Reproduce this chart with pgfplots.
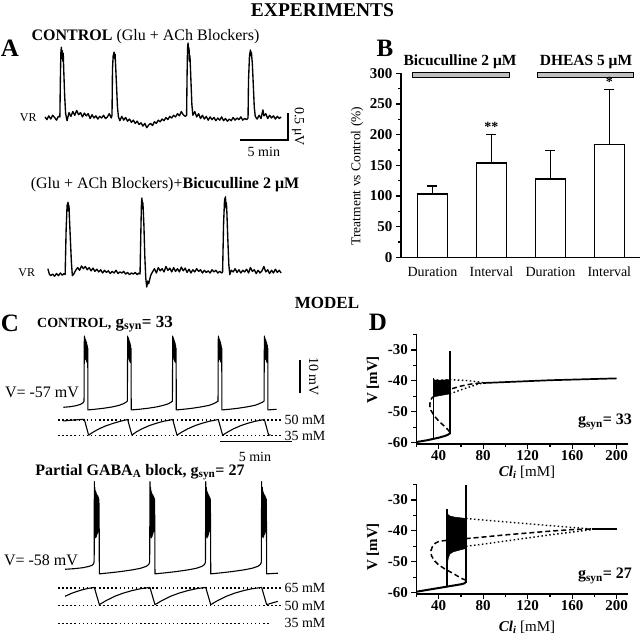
\documentclass[border=0pt]{standalone}
\usepackage{fontspec}
\setmainfont{Liberation Serif}
\usepackage{pgfplots}
\pgfplotsset{compat=1.18}
\newcommand{\fs}[1]{\fontsize{#1bp}{#1bp}\selectfont}
\pgfplotsset{
  trace/.style={scale only axis, hide axis, clip=false, enlargelimits=false, anchor=south west},
  tr/.style={black, line width=1.35bp, line join=round},
  dotl/.style={black, line width=1.3bp, dash pattern=on 1.5bp off 2.6bp},
  panelD/.style={scale only axis, clip=false, enlargelimits=false, anchor=south west,
    width=211.4bp, height=109.7bp, xmin=20, xmax=210, ymin=-60.5, ymax=-25,
    axis x line*=bottom, axis y line*=left, axis line style={line width=1.4bp,-},
    tick align=outside, xtick={40,80,...,200}, minor xtick={20,60,100,140,180},
    ytick={-60,-50,-40,-30}, minor ytick={-55,-45,-35,-25},
    major tick length=5bp, minor tick length=3bp,
    every tick/.style={line width=1.2bp, black},
    ticklabel style={font=\fs{15}\bfseries},
    xticklabel style={inner sep=1bp},
    /pgf/number format/assume math mode=true},
  solidD/.style={black, line width=2bp},
  dashD/.style={black, line width=1.5bp, dash pattern=on 5bp off 3bp},
  dotD/.style={black, line width=1.4bp, dash pattern=on 1.5bp off 2.5bp},
}
\begin{document}
\begin{tikzpicture}
\path[use as bounding box] (0,0) rectangle (640bp,636bp);
% ---------- headings ----------
\node[font=\fs{19.5}\bfseries] at (322.5bp,626bp) {EXPERIMENTS};
\node[font=\fs{25}\bfseries] at (10bp,588bp) {A};
\node[font=\fs{16}] at (145.5bp,599bp) {\textbf{CONTROL} (Glu + ACh Blockers)};
\node[font=\fs{16}] at (165bp,451bp) {(Glu + ACh Blockers)+\textbf{Bicuculline 2 μM}};
\node[font=\fs{25}\bfseries] at (385bp,588bp) {B};
\node[font=\fs{17}\bfseries] at (327bp,333bp) {MODEL};
\node[font=\fs{25}\bfseries] at (10bp,313bp) {C};
\node[font=\fs{17}\bfseries] at (105bp,312bp) {{\fs{14}CONTROL,} g\textsubscript{syn}= 33};
\node[font=\fs{16}] at (42bp,244bp) {V= -57 mV};
\node[font=\fs{16}\bfseries] at (140bp,164bp) {Partial GABA\textsubscript{A} block, g\textsubscript{syn}= 27};
\node[font=\fs{16}] at (41bp,76bp) {V= -58 mV};
\node[font=\fs{25}\bfseries] at (378bp,314bp) {D};
\node[font=\fs{15}\bfseries, rotate=90] at (373bp,256bp) {V [mV]};
\node[font=\fs{15}\bfseries, rotate=90] at (373bp,89bp) {V [mV]};
\node[font=\fs{15}, inner sep=0.5bp] at (527bp,164bp) {\textbf{\textit{Cl}\textsubscript{\textit{i}}} [mM]};
\node[font=\fs{15}, inner sep=0.5bp] at (527bp,9bp) {\textbf{\textit{Cl}\textsubscript{\textit{i}}} [mM]};
\node[font=\fs{16}\bfseries] at (605bp,214bp) {g\textsubscript{syn}= 33};
\node[font=\fs{16}\bfseries] at (605bp,60bp) {g\textsubscript{syn}= 27};
\node[font=\fs{13.5}, rotate=90] at (357bp,460bp) {Treatment vs Control (\%)};

% ---------- A top ----------
\begin{axis}[trace, at={(45bp,507.2bp)}, width=240bp, height=91.8bp, xmin=0, xmax=25, ymin=-0.2, ymax=1.5]
\addplot[tr] coordinates {
(0.0,0.02) (0.2,-0.03) (0.4,0.04) (0.6,-0.02) (0.8,0.05) (1.0,0.01) (1.2,-0.04) (1.4,0.03) (1.55,0.02)
(1.6,0.7) (1.65,1.2) (1.7,1.31) (1.75,1.1) (1.8,1.25) (1.85,1.05) (1.9,1.2) (1.95,0.9) (2.05,0.4) (2.15,0.08)
(2.3,-0.05) (2.5,0.1) (2.7,0.03) (2.9,0.12) (3.1,0.05) (3.3,0.14) (3.5,0.06) (3.7,0.1) (3.9,0.02) (4.1,0.09)
(4.3,0.04) (4.5,0.08) (4.7,-0.01) (4.9,0.06) (5.1,0.0) (5.3,0.04) (5.5,-0.02) (5.7,0.03) (5.9,0.0) (6.1,0.05)
(6.3,-0.01) (6.5,0.02) (6.7,0.08) (6.9,0.0) (6.98,0.05)
(7.03,0.9) (7.1,1.15) (7.2,1.22) (7.25,1.1) (7.3,1.18) (7.35,1.0) (7.45,0.6) (7.55,0.2) (7.65,0.02)
(7.8,-0.05) (8.0,0.03) (8.2,-0.04) (8.4,0.01) (8.6,-0.06) (8.8,-0.02) (9.0,-0.08) (9.2,-0.04) (9.4,-0.1)
(9.6,-0.06) (9.8,-0.12) (10.0,-0.09) (10.2,-0.15) (10.4,-0.1) (10.6,-0.18) (10.8,-0.13) (11.0,-0.1)
(11.2,-0.14) (11.4,-0.07) (11.6,-0.1) (11.8,-0.04) (12.0,-0.07) (12.2,-0.02) (12.4,-0.05) (12.6,0.01)
(12.8,-0.03) (13.0,0.03) (13.2,0.0) (13.4,0.05) (13.6,0.02) (13.8,0.08) (14.0,0.04) (14.2,0.12) (14.4,0.06)
(14.6,0.03) (14.75,0.05)
(14.8,0.8) (14.85,1.3) (14.9,1.39) (14.95,1.2) (15.0,1.3) (15.05,1.05) (15.1,1.15) (15.2,0.7) (15.3,0.25) (15.4,0.05)
(15.6,0.12) (15.8,0.02) (16.0,0.08) (16.2,-0.01) (16.4,0.05) (16.6,-0.02) (16.8,0.03) (17.0,-0.04) (17.2,0.02)
(17.4,-0.03) (17.6,0.01) (17.8,-0.05) (18.0,0.0) (18.2,-0.04) (18.4,0.02) (18.6,-0.05) (18.8,-0.01) (19.0,-0.06)
(19.2,-0.02) (19.4,-0.05) (19.6,0.01) (19.8,-0.04) (20.0,0.0) (20.2,-0.03) (20.4,0.02) (20.6,-0.04) (20.8,-0.01)
(21.0,-0.03) (21.15,0.0)
(21.2,0.7) (21.3,1.15) (21.4,1.26) (21.45,1.15) (21.5,1.22) (21.6,1.0) (21.7,0.6) (21.8,0.2) (21.9,0.03)
(22.1,-0.02) (22.3,0.05) (22.5,-0.01) (22.7,0.15) (22.8,0.04) (23.0,0.08) (23.2,-0.01) (23.4,0.05) (23.6,0.0)
(23.8,0.04) (24.0,-0.02) (24.2,0.03) (24.4,-0.01) (24.6,0.02)};
\addplot[black, line width=1.5bp] coordinates {(20.3,-0.41) (25.3,-0.41) (25.3,0.09)};
\node[font=\fs{14}, rotate=-90] at (axis cs:26.35,-0.16) {0.5 μV};
\node[font=\fs{14}] at (axis cs:22.8,-0.62) {5 min};
\node[font=\fs{12}] at (axis cs:-1.75,0) {VR};
\end{axis}

% ---------- A bottom ----------
\begin{axis}[trace, at={(45bp,346.8bp)}, width=240bp, height=97.2bp, xmin=0, xmax=25, ymin=-0.3, ymax=1.5]
\addplot[tr] coordinates {
(0.3,0.08) (0.45,-0.02) (0.6,-0.05) (0.8,-0.02) (1.0,-0.06) (1.2,-0.01) (1.4,-0.05) (1.6,0.0) (1.8,-0.04)
(2.0,-0.01) (2.1,-0.03)
(2.2,0.8) (2.3,1.25) (2.4,1.31) (2.45,1.15) (2.5,1.25) (2.55,1.0) (2.65,0.6) (2.75,0.2) (2.85,-0.05)
(3.0,-0.02) (3.2,0.05) (3.4,0.1) (3.6,0.05) (3.8,0.13) (4.0,0.08) (4.2,0.12) (4.4,0.06) (4.6,0.1) (4.8,0.04)
(5.0,0.09) (5.2,0.03) (5.4,0.07) (5.6,0.02) (5.8,0.06) (6.0,0.0) (6.2,0.05) (6.4,0.01) (6.6,0.04) (6.8,-0.01)
(7.0,0.03) (7.2,0.0) (7.4,0.05) (7.6,-0.01) (7.8,0.02) (8.0,0.0) (8.2,0.03) (8.4,-0.02) (8.6,0.01) (8.8,-0.03)
(9.0,0.0) (9.2,-0.02) (9.4,0.01) (9.6,-0.03) (9.8,0.0) (9.9,-0.02)
(10.0,0.9) (10.05,1.3) (10.1,1.39) (10.15,1.2) (10.2,1.3) (10.3,0.9) (10.4,0.3) (10.5,-0.1) (10.6,-0.26)
(10.7,-0.15) (10.8,-0.2) (11.0,-0.05) (11.2,0.02) (11.4,0.08) (11.6,0.0) (11.8,0.1) (12.0,0.04) (12.2,0.08)
(12.4,0.02) (12.6,0.12) (12.8,0.05) (13.0,0.09) (13.2,0.02) (13.4,0.1) (13.6,0.03) (13.8,0.08) (14.0,0.02)
(14.2,0.11) (14.4,0.04) (14.6,0.09) (14.8,0.01) (15.0,0.07) (15.2,0.0) (15.4,0.06) (15.6,0.02) (15.8,0.08)
(16.0,0.03) (16.2,0.06) (16.4,0.0) (16.6,0.05) (16.8,0.01) (17.0,0.04) (17.2,0.0) (17.4,0.06) (17.6,0.02)
(17.8,0.05) (18.0,0.0) (18.2,0.03) (18.4,0.0) (18.5,0.02)
(18.6,0.9) (18.7,1.35) (18.8,1.41) (18.85,1.2) (18.9,1.3) (18.95,1.1) (19.05,0.6) (19.15,0.15) (19.25,-0.03)
(19.4,0.05) (19.6,0.02) (19.8,0.08) (20.0,0.01) (20.2,0.06) (20.4,0.0) (20.6,0.05) (20.8,0.02) (21.0,0.07)
(21.2,0.0) (21.4,0.1) (21.6,0.03) (21.8,0.06) (22.0,-0.01) (22.2,0.05) (22.4,0.0) (22.6,0.04) (22.8,0.12)
(23.0,0.02) (23.2,0.06) (23.4,-0.01) (23.6,0.05) (23.8,0.0) (24.0,0.07) (24.2,0.01) (24.4,0.05) (24.6,0.0)};
\node[font=\fs{12}] at (axis cs:-1.9,0) {VR};
\end{axis}

% ---------- B ----------
\begin{axis}[scale only axis, clip=false, enlargelimits=false, anchor=south west,
  at={(401bp,378.7bp)}, width=239bp, height=184bp,
  xmin=0.466, xmax=4.52, ymin=0, ymax=300,
  axis x line*=bottom, axis y line*=left, axis line style={line width=1.5bp,-},
  ytick={0,50,...,300}, minor ytick={25,75,...,275}, tick align=outside,
  major tick length=5bp, minor tick length=3bp,
  every tick/.style={line width=1.2bp, black},
  xtick={1,2,3,4}, xticklabels={Duration,Interval,Duration,Interval},
  x tick style={draw=none},
  xticklabel style={font=\fs{14}, yshift=-1bp},
  yticklabel style={font=\fs{15}\bfseries},
  /pgf/number format/assume math mode=true]
\addplot[ybar, bar width=30bp, fill=white, draw=black, line width=1.5bp,
  error bars/.cd, y dir=plus, y explicit, error mark=|,
  error bar style={line width=1.2bp, black},
  error mark options={line width=1.3bp, mark size=5bp, black}]
  coordinates {(1,103) +- (0,13) (2,154) +- (0,46) (3,128) +- (0,46) (4,184) +- (0,90)};
\addplot[fill=gray!50, draw=black, line width=0.8bp] coordinates {(0.652,293.5) (2.297,293.5) (2.297,301) (0.652,301)} --cycle;
\addplot[fill=gray!50, draw=black, line width=0.8bp] coordinates {(2.788,293.5) (4.415,293.5) (4.415,301) (2.788,301)} --cycle;
\node[font=\fs{15.5}\bfseries] at (axis cs:1.467,318) {Bicuculline 2 μM};
\node[font=\fs{15.5}\bfseries] at (axis cs:3.604,318) {DHEAS 5 μM};
\node[font=\fs{14}\bfseries] at (axis cs:2,212) {**};
\node[font=\fs{14}\bfseries] at (axis cs:4,286) {*};
\end{axis}

% ---------- C top ----------
\begin{axis}[trace, at={(63.3bp,219.2bp)}, width=214.5bp, height=85bp, xmin=0, xmax=15, ymin=-60, ymax=-34]
\addplot[tr, line width=1.1bp] coordinates {
(0,-57.1) (0.5,-56.9) (0.9,-56.6) (1.2,-56.2) (1.38,-55.7) (1.45,-55.2)
(1.47,-35.3) (1.49,-41) (1.51,-35.8) (1.53,-42) (1.55,-36.3) (1.57,-42.5) (1.59,-36.8) (1.61,-43) (1.63,-37.3) (1.65,-43.3) (1.67,-38) (1.69,-43.5) (1.71,-39) (1.72,-57.9)
(2.2,-57.7) (2.8,-57.4) (3.4,-57.0) (3.9,-56.5) (4.2,-56.0) (4.4,-55.5) (4.48,-55.2)
(4.50,-35.3) (4.52,-41) (4.54,-35.8) (4.56,-42) (4.58,-36.3) (4.60,-42.5) (4.62,-36.8) (4.64,-43) (4.66,-37.3) (4.68,-43.3) (4.70,-38) (4.72,-43.5) (4.74,-39) (4.75,-57.9)
(5.3,-57.7) (5.9,-57.4) (6.5,-57.0) (7.0,-56.5) (7.35,-56.0) (7.55,-55.5) (7.63,-55.2)
(7.65,-35.3) (7.67,-41) (7.69,-35.8) (7.71,-42) (7.73,-36.3) (7.75,-42.5) (7.77,-36.8) (7.79,-43) (7.81,-37.3) (7.83,-43.3) (7.85,-38) (7.87,-43.5) (7.89,-39) (7.90,-57.9)
(8.4,-57.7) (9.0,-57.4) (9.6,-57.0) (10.2,-56.5) (10.5,-56.0) (10.72,-55.5) (10.82,-55.2)
(10.84,-35.3) (10.86,-41) (10.88,-35.8) (10.90,-42) (10.92,-36.3) (10.94,-42.5) (10.96,-36.8) (10.98,-43) (11.00,-37.3) (11.02,-43.3) (11.04,-38) (11.06,-43.5) (11.08,-39) (11.09,-57.9)
(11.6,-57.7) (12.2,-57.4) (12.8,-57.0) (13.4,-56.5) (13.7,-56.0) (13.94,-55.5) (14.04,-55.2)
(14.06,-35.3) (14.08,-41) (14.10,-35.8) (14.12,-42) (14.14,-36.3) (14.16,-42.5) (14.18,-36.8) (14.20,-43) (14.22,-37.3) (14.24,-43.3) (14.26,-38) (14.28,-43.5) (14.30,-39) (14.31,-57.9)
(14.6,-57.8) (14.92,-57.7)};
\addplot[black, line width=1.6bp] coordinates {(16.57,-42.6) (16.57,-52.6)};
\node[font=\fs{14}, rotate=-90] at (axis cs:17.5,-47.6) {10 mV};
\end{axis}
\begin{axis}[trace, at={(63.3bp,195.1bp)}, width=214.5bp, height=26.2bp, xmin=0, xmax=15, ymin=30, ymax=55]
\addplot[dotl] coordinates {(-0.37,50) (15.3,50)};
\addplot[dotl] coordinates {(-0.37,35) (15.3,35)};
\addplot[tr, line width=1.1bp] coordinates {
(0,49.0) (0.5,49.7) (1.0,50.2) (1.47,50.6) (1.77,35.5)
(2.1,38.5) (2.5,41.5) (3.0,44.5) (3.5,46.8) (4.0,48.8) (4.50,50.4) (4.80,35.5)
(5.1,38.5) (5.5,41.5) (6.0,44.5) (6.5,46.8) (7.0,48.7) (7.65,50.4) (7.95,35.5)
(8.3,38.5) (8.7,41.5) (9.2,44.5) (9.7,46.8) (10.2,48.7) (10.84,50.4) (11.14,35.5)
(11.5,38.5) (11.9,41.5) (12.4,44.5) (12.9,46.8) (13.4,48.7) (14.06,50.4) (14.36,35.5) (14.5,35.8)};
\addplot[black, line width=1.6bp] coordinates {(10.96,29.3) (15.97,29.3)};
\node[font=\fs{14}] at (axis cs:16.9,50) {50 mM};
\node[font=\fs{14}] at (axis cs:16.9,35) {35 mM};
\node[font=\fs{14}] at (axis cs:13.4,15) {5 min};
\end{axis}

% ---------- C bottom ----------
\begin{axis}[trace, at={(63.3bp,56.9bp)}, width=214.5bp, height=101.4bp, xmin=0, xmax=15, ymin=-61, ymax=-30]
\addplot[tr, line width=1.1bp] coordinates {
(0.12,-58.0) (0.8,-57.8) (1.4,-57.5) (1.8,-57.1) (2.0,-56.8) (2.12,-56.3) (2.16,-55.5)
(2.17,-31.2) (2.19,-47) (2.21,-33) (2.23,-48) (2.25,-34) (2.27,-48.4) (2.29,-34.5) (2.31,-48) (2.33,-35) (2.35,-47.5) (2.37,-35.3) (2.39,-47) (2.41,-35.6) (2.43,-46.5) (2.45,-36) (2.47,-46) (2.49,-36.5) (2.51,-45) (2.52,-59.4)
(3.2,-59.1) (4.0,-58.7) (4.8,-58.2) (5.4,-57.7) (5.8,-57.1) (5.98,-56.5) (6.04,-55.8)
(6.06,-31.2) (6.08,-47) (6.10,-33) (6.12,-48) (6.14,-34) (6.16,-48.4) (6.18,-34.5) (6.20,-48) (6.22,-35) (6.24,-47.5) (6.26,-35.3) (6.28,-47) (6.30,-35.6) (6.32,-46.5) (6.34,-36) (6.36,-46) (6.38,-36.5) (6.40,-45) (6.41,-59.4)
(7.1,-59.1) (7.9,-58.7) (8.7,-58.2) (9.3,-57.7) (9.7,-57.1) (9.88,-56.5) (9.94,-55.8)
(9.96,-31.2) (9.98,-47) (10.00,-33) (10.02,-48) (10.04,-34) (10.06,-48.4) (10.08,-34.5) (10.10,-48) (10.12,-35) (10.14,-47.5) (10.16,-35.3) (10.18,-47) (10.20,-35.6) (10.22,-46.5) (10.24,-36) (10.26,-46) (10.28,-36.5) (10.30,-45) (10.31,-59.4)
(11.0,-59.1) (11.8,-58.7) (12.6,-58.2) (13.2,-57.7) (13.6,-57.1) (13.79,-56.5) (13.85,-55.8)
(13.87,-31.2) (13.89,-47) (13.91,-33) (13.93,-48) (13.95,-34) (13.97,-48.4) (13.99,-34.5) (14.01,-48) (14.03,-35) (14.05,-47.5) (14.07,-35.3) (14.09,-47) (14.11,-35.6) (14.13,-46.5) (14.15,-36) (14.17,-46) (14.19,-36.5) (14.21,-45) (14.22,-59.4)
(14.6,-59.3) (15.0,-59.2)};
\end{axis}
\begin{axis}[trace, at={(63.3bp,6.8bp)}, width=214.5bp, height=47.2bp, xmin=0, xmax=15, ymin=30, ymax=70]
\addplot[dotl] coordinates {(-0.37,65) (15.3,65)};
\addplot[dotl] coordinates {(-0.37,50) (15.3,50)};
\addplot[dotl] coordinates {(-0.37,35) (14.5,35)};
\addplot[tr, line width=1.1bp] coordinates {
(0.12,57.9) (0.6,60.5) (1.2,63.0) (1.7,64.5) (2.17,65.4) (2.52,50.8)
(3.0,54.3) (3.6,57.9) (4.2,60.6) (4.8,62.7) (5.4,64.3) (6.06,65.4) (6.41,50.8)
(6.9,54.3) (7.5,57.9) (8.1,60.6) (8.7,62.7) (9.3,64.3) (9.96,65.4) (10.31,50.8)
(10.8,54.3) (11.4,57.9) (12.0,60.6) (12.6,62.7) (13.2,64.3) (13.87,65.4) (14.22,50.8)
(14.6,52.2) (15.0,53.6)};
\node[font=\fs{14}] at (axis cs:16.9,65) {65 mM};
\node[font=\fs{14}] at (axis cs:16.9,50) {50 mM};
\node[font=\fs{14}] at (axis cs:16.9,35) {35 mM};
\end{axis}

% ---------- D top ----------
\begin{axis}[panelD, at={(416.4bp,191.8bp)}]
\addplot[fill=black, draw=black, line width=0.5bp] coordinates {
(35.3,-39.5) (37,-39.8) (39,-39.6) (41,-39.9) (43,-39.6) (45,-39.8) (47,-39.5) (49,-39.7) (50.2,-39.4)
(50.2,-44.2) (47,-44.4) (44,-44.6) (41,-44.8) (38,-45.0) (35.3,-45.2)} --cycle;
\addplot[solidD] coordinates {(20,-59.8) (25,-59.5) (30,-59.2) (35,-58.8) (40,-58.4) (45,-57.9) (48,-57.5) (50.2,-57.0)};
\addplot[black, line width=1.8bp] coordinates {(35.3,-58.8) (35.3,-39.0)};
\addplot[black, line width=1.8bp] coordinates {(50.2,-57.3) (50.2,-30.5)};
\addplot[dashD] coordinates {(50,-56.5) (47,-55.3) (44,-54.3) (40,-53) (36,-51.3) (33,-49.5) (32,-48) (32.5,-46.5) (34,-45.5) (36,-45) (40,-44.3) (45,-43.5) (50,-42.8) (55,-42.2) (60,-41.7) (65,-41.3) (70,-41) (75,-40.8) (80,-40.7)};
\addplot[dotD] coordinates {(50,-39.6) (55,-39.7) (60,-39.8) (65,-39.9) (70,-40.1) (75,-40.3) (80,-40.6)};
\addplot[dotD] coordinates {(50,-44.2) (55,-43.6) (60,-42.9) (65,-42.3) (70,-41.7) (75,-41.1) (80,-40.7)};
\addplot[solidD, line width=1.7bp] coordinates {(80,-40.7) (100,-40.4) (120,-40.1) (140,-39.8) (160,-39.6) (180,-39.4) (200,-39.2)};
\end{axis}

% ---------- D bottom ----------
\begin{axis}[panelD, at={(416.4bp,41.8bp)}]
\addplot[fill=black, draw=black, line width=0.5bp] coordinates {
(47.8,-34.5) (50,-35.2) (55,-35.6) (60,-35.8) (64.6,-36)
(64.6,-45.7) (58,-46.3) (53,-46.8) (50,-47.5) (48.5,-49) (47.8,-51.6)} --cycle;
\addplot[solidD] coordinates {(20,-59.7) (25,-59.4) (30,-59.1) (35,-58.8) (40,-58.5) (45,-58.2) (50,-57.9) (55,-57.6) (60,-57.3) (63,-57.0) (64.6,-56.5)};
\addplot[black, line width=1.8bp] coordinates {(47.8,-58.1) (47.8,-33)};
\addplot[black, line width=1.8bp] coordinates {(64.6,-56.8) (64.6,-25.2)};
\addplot[dashD] coordinates {(64.6,-56) (60,-55.3) (55,-54.2) (50,-53.2) (45,-52.2) (40,-51) (36,-49.6) (33.5,-48) (33,-46.5) (34.5,-45) (37,-44) (41,-43.3) (50,-43) (65,-42.5) (80,-42) (100,-41.3) (120,-40.7) (140,-40.1) (160,-39.6) (178,-39.4)};
\addplot[dotD] coordinates {(64.6,-36) (80,-36.5) (100,-37.1) (120,-37.7) (140,-38.3) (160,-38.9) (178,-39.4)};
\addplot[dotD] coordinates {(64.6,-45) (80,-44.3) (100,-43.3) (120,-42.3) (140,-41.3) (160,-40.4) (178,-39.6)};
\addplot[solidD, line width=1.7bp] coordinates {(178,-39.5) (200,-39.5)};
\end{axis}
\end{tikzpicture}
\end{document}
